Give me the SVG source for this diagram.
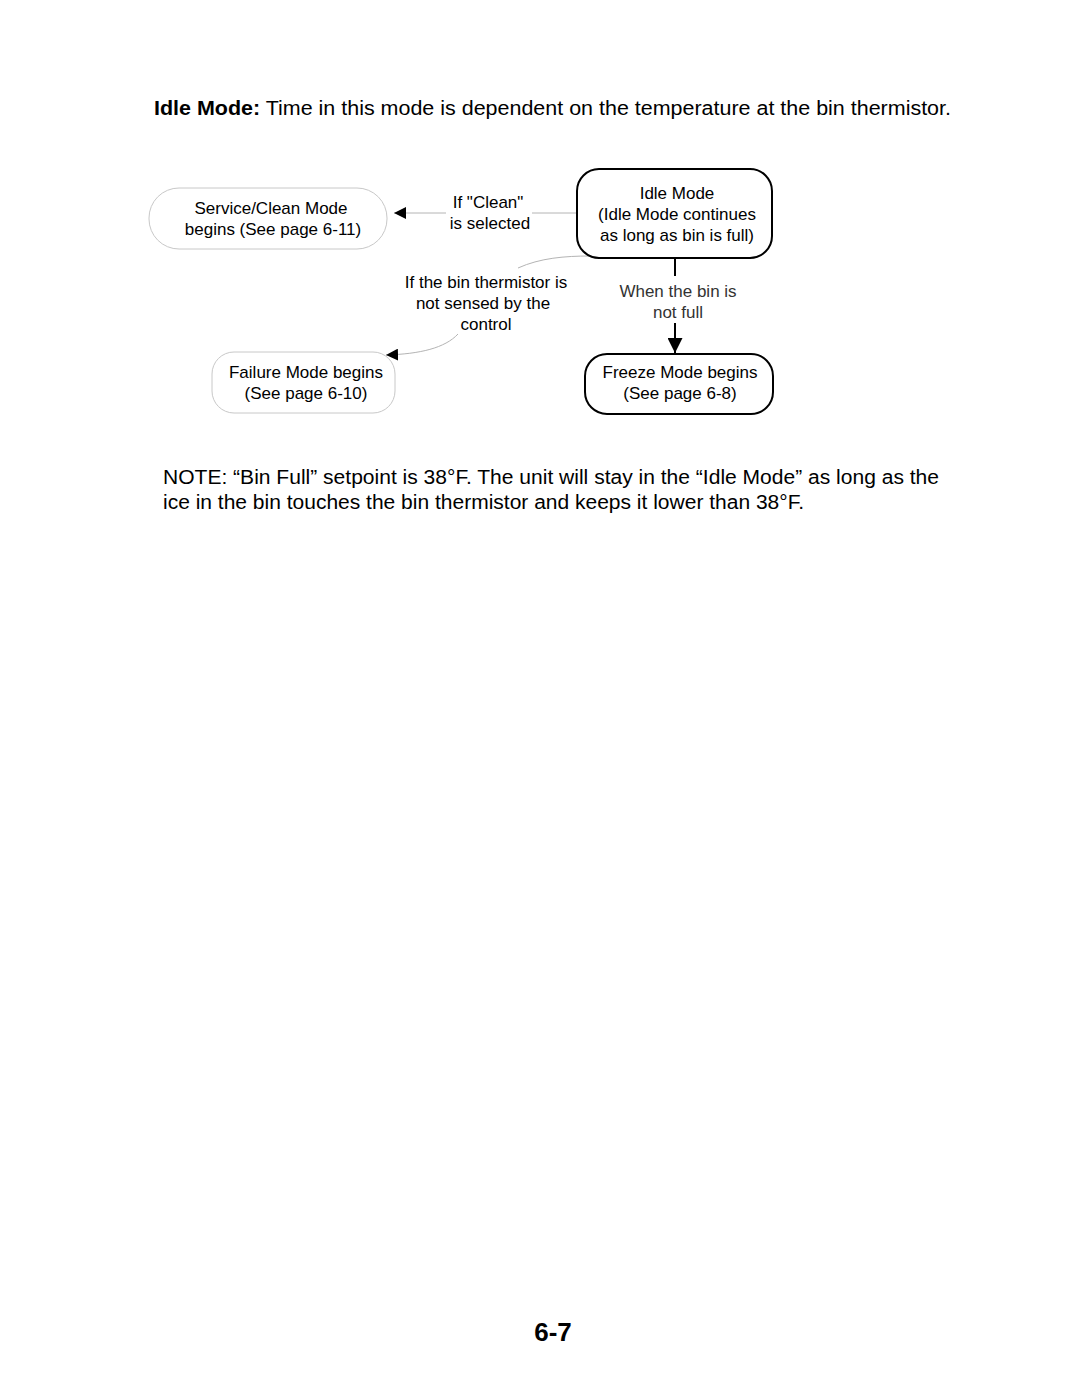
<svg xmlns="http://www.w3.org/2000/svg" width="1080" height="1397" viewBox="0 0 1080 1397">
<style>
.t{font-family:"Liberation Sans",Arial,sans-serif;fill:#000}
.n{font-size:17px;text-anchor:middle}
.soft{fill:#fff;stroke:#c8c8c8;stroke-width:1}
.hard{fill:#fff;stroke:#000;stroke-width:2}
.ln{fill:none;stroke:#b4b4b4;stroke-width:1}
.lnb{fill:none;stroke:#000;stroke-width:2}
</style>
<defs>
<marker id="ah" viewBox="0 0 10 10" refX="10" refY="5" markerWidth="12" markerHeight="12" markerUnits="userSpaceOnUse" orient="auto">
<path d="M0,0 L10,5 L0,10 z" fill="#000"/>
</marker>
<marker id="ahb" viewBox="0 0 10 10" refX="10" refY="5" markerWidth="15" markerHeight="15" markerUnits="userSpaceOnUse" orient="auto">
<path d="M0,0 L10,5 L0,10 z" fill="#000"/>
</marker>
</defs>
<rect width="1080" height="1397" fill="#fff"/>
<text class="t" x="154" y="115" font-size="20" textLength="797" lengthAdjust="spacingAndGlyphs"><tspan font-weight="bold">Idle Mode:</tspan> Time in this mode is dependent on the temperature at the bin thermistor.</text>

<g id="connectors">
<line class="ln" x1="576" y1="213" x2="532" y2="213"/>
<line class="ln" x1="446" y1="213" x2="394" y2="213" marker-end="url(#ah)"/>
<path class="ln" d="M590,256 C565,256 540,258 518,268"/>
<path class="ln" d="M458,334 C445,348 420,354 386,355" marker-end="url(#ah)"/>
<line class="lnb" x1="675" y1="258" x2="675" y2="276"/>
<line class="lnb" x1="675" y1="323" x2="675" y2="353" marker-end="url(#ahb)"/>
<g class="t n">
<text x="488" y="208">If "Clean"</text>
<text x="490" y="229">is selected</text>
<text x="486" y="288">If the bin thermistor is</text>
<text x="483" y="309">not sensed by the</text>
<text x="486" y="330">control</text>
<text x="678" y="297" style="fill:#333">When the bin is</text>
<text x="678" y="318" style="fill:#333">not full</text>
</g>
</g>

<g id="service">
<rect class="soft" x="149" y="188" width="238" height="61" rx="30"/>
<text class="t n" x="271" y="214">Service/Clean Mode</text>
<text class="t n" x="273" y="235">begins (See page 6-11)</text>
</g>
<g id="idle">
<rect class="hard" x="577" y="169" width="195" height="89" rx="22"/>
<text class="t n" x="677" y="199">Idle Mode</text>
<text class="t n" x="677" y="220">(Idle Mode continues</text>
<text class="t n" x="677" y="241">as long as bin is full)</text>
</g>
<g id="failure">
<rect class="soft" x="212" y="352" width="183" height="61" rx="22"/>
<text class="t n" x="306" y="378">Failure Mode begins</text>
<text class="t n" x="306" y="399">(See page 6-10)</text>
</g>
<g id="freeze">
<rect class="hard" x="585" y="354" width="188" height="60" rx="22"/>
<text class="t n" x="680" y="378">Freeze Mode begins</text>
<text class="t n" x="680" y="399">(See page 6-8)</text>
</g>

<text class="t" x="163" y="484" font-size="20" textLength="776" lengthAdjust="spacingAndGlyphs">NOTE: “Bin Full” setpoint is 38°F. The unit will stay in the “Idle Mode” as long as the</text>
<text class="t" x="163" y="509" font-size="20" textLength="641" lengthAdjust="spacingAndGlyphs">ice in the bin touches the bin thermistor and keeps it lower than 38°F.</text>
<text class="t" x="553" y="1341" font-size="26" font-weight="bold" text-anchor="middle">6-7</text>
</svg>
